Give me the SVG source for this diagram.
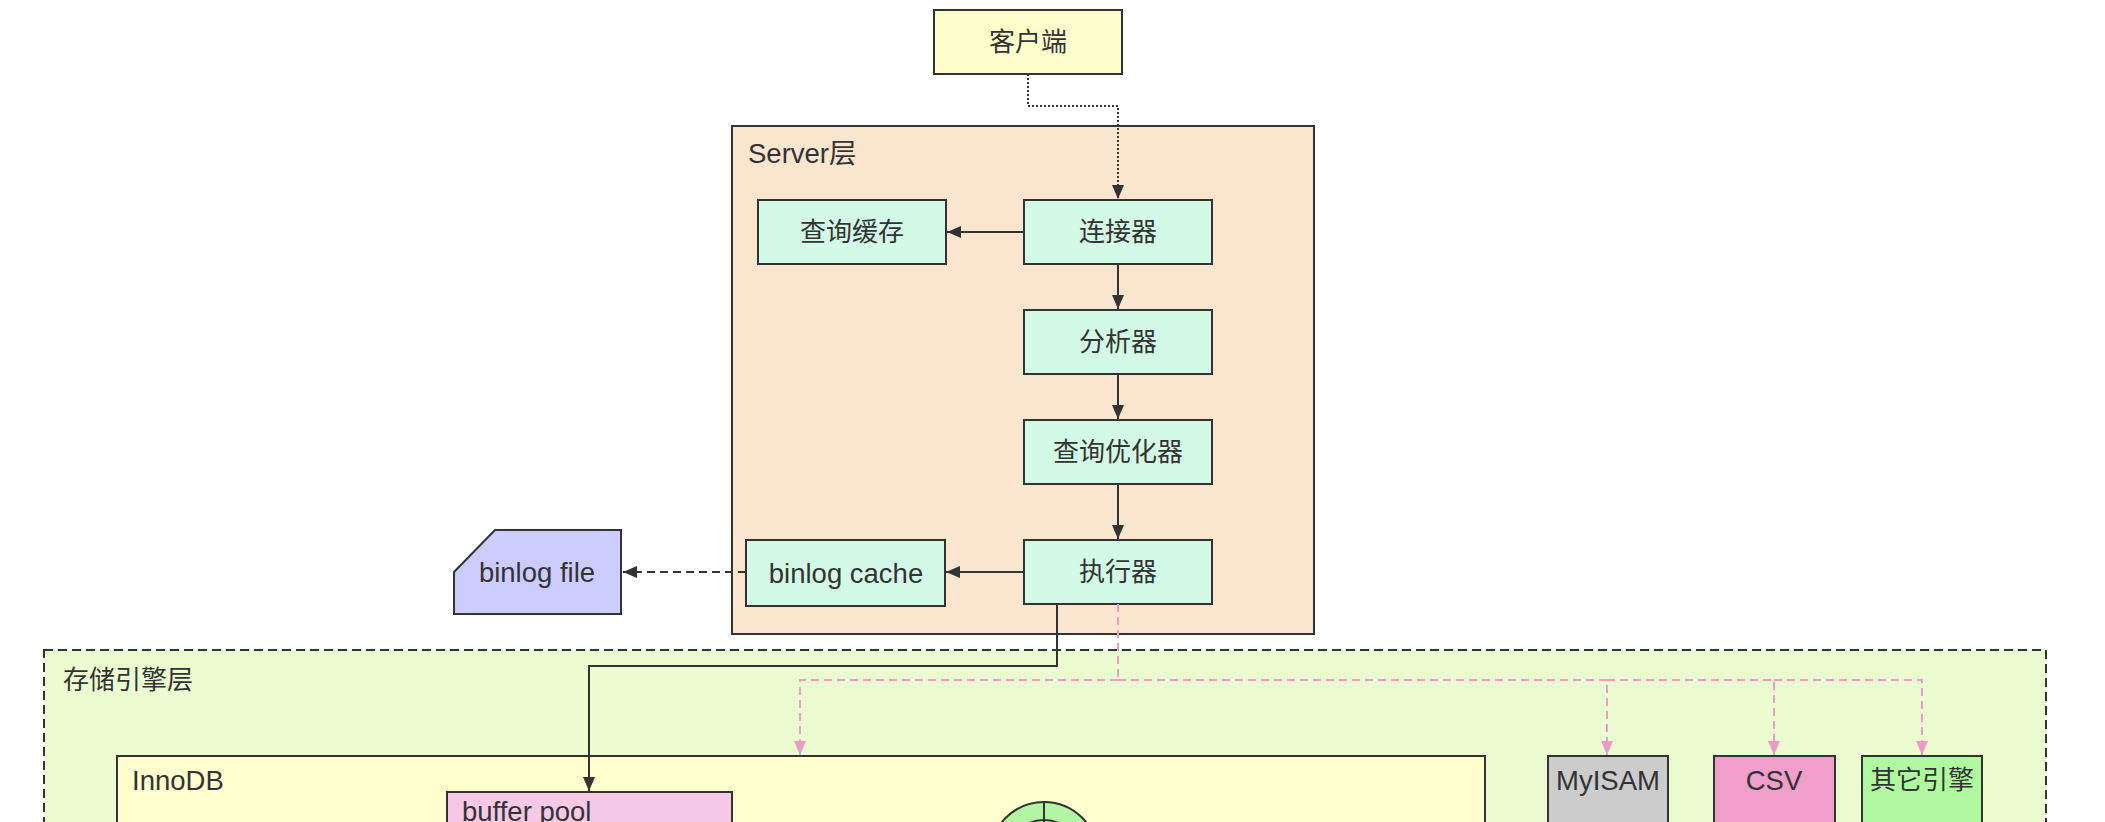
<svg xmlns="http://www.w3.org/2000/svg" width="2105" height="822" viewBox="0 0 2105 822">
<defs>
<style>
text{font-family:"Liberation Sans","Noto Sans CJK SC",sans-serif;font-size:26px;fill:#333;dominant-baseline:central}
.l{font-size:27.5px}
.c{text-anchor:middle}
.box{stroke:#333;stroke-width:2}
.g{fill:#D3FAE6}
.ln{fill:none;stroke:#333;stroke-width:2}
.pk{fill:none;stroke:#EE9ACB;stroke-width:2;stroke-dasharray:8 5}
</style>
<marker id="ab" viewBox="0 0 14 14" refX="14" refY="7" markerWidth="14" markerHeight="14" markerUnits="userSpaceOnUse" orient="auto">
<path d="M0,1 L14,7 L0,13 Z" fill="#333"/>
</marker>
<marker id="ap" viewBox="0 0 14 14" refX="14" refY="7" markerWidth="14" markerHeight="14" markerUnits="userSpaceOnUse" orient="auto">
<path d="M0,1 L14,7 L0,13 Z" fill="#EE9ACB"/>
</marker>
</defs>
<rect width="2105" height="822" fill="#fff"/>

<g id="storage-layer">
<rect x="44" y="650" width="2002" height="200" fill="#EAFCD0" stroke="#333" stroke-width="2" stroke-dasharray="9 5"/>
<text x="63" y="680">存储引擎层</text>
</g>

<g id="server-layer">
<rect class="box" x="732" y="126" width="582" height="508" fill="#FAE5CF"/>
<text class="l" x="748" y="153">Server层</text>
</g>

<g id="client">
<rect class="box" x="934" y="10" width="188" height="64" fill="#FFFFCC"/>
<text class="c" x="1028" y="42">客户端</text>
</g>

<g id="query-cache">
<rect class="box g" x="758" y="200" width="188" height="64"/>
<text class="c" x="852" y="232">查询缓存</text>
</g>
<g id="connector">
<rect class="box g" x="1024" y="200" width="188" height="64"/>
<text class="c" x="1118" y="232">连接器</text>
</g>
<g id="analyzer">
<rect class="box g" x="1024" y="310" width="188" height="64"/>
<text class="c" x="1118" y="342">分析器</text>
</g>
<g id="optimizer">
<rect class="box g" x="1024" y="420" width="188" height="64"/>
<text class="c" x="1118" y="452">查询优化器</text>
</g>
<g id="executor">
<rect class="box g" x="1024" y="540" width="188" height="64"/>
<text class="c" x="1118" y="572">执行器</text>
</g>
<g id="binlog-cache">
<rect class="box g" x="746" y="540" width="199" height="66"/>
<text class="c l" x="846" y="573">binlog cache</text>
</g>
<g id="binlog-file">
<path class="box" d="M495,530 H621 V614 H454 V572 Z" fill="#CCCCFF"/>
<text class="c l" x="537" y="572">binlog file</text>
</g>

<g id="innodb">
<rect class="box" x="117" y="756" width="1368" height="120" fill="#FFFFD0"/>
<text class="l" x="132" y="780">InnoDB</text>
</g>
<g id="buffer-pool">
<rect class="box" x="447" y="792" width="285" height="80" fill="#F6CAE6"/>
<text class="l" x="462" y="811">buffer pool</text>
</g>
<g id="redo-log">
<circle class="box" cx="1044" cy="856" r="54" fill="#B2F5A2"/>
<circle class="box" cx="1044" cy="856" r="36" fill="#B2F5A2"/>
<line class="ln" x1="1044" y1="802" x2="1044" y2="822"/>
</g>
<g id="myisam">
<rect class="box" x="1548" y="756" width="120" height="120" fill="#CCCCCC"/>
<text class="c l" x="1608" y="780">MyISAM</text>
</g>
<g id="csv">
<rect class="box" x="1714" y="756" width="121" height="120" fill="#F09FCA"/>
<text class="c l" x="1774" y="780">CSV</text>
</g>
<g id="other-engines">
<rect class="box" x="1862" y="756" width="120" height="120" fill="#B0F9A0"/>
<text class="c" x="1922" y="780">其它引擎</text>
</g>

<g id="connectors">
<path class="ln" d="M1028,74 V106 H1118 V199" stroke-dasharray="2 2" marker-end="url(#ab)"/>
<path class="ln" d="M1024,232 H947" marker-end="url(#ab)"/>
<path class="ln" d="M1118,264 V309" marker-end="url(#ab)"/>
<path class="ln" d="M1118,374 V419" marker-end="url(#ab)"/>
<path class="ln" d="M1118,484 V539" marker-end="url(#ab)"/>
<path class="ln" d="M1024,572 H946" marker-end="url(#ab)"/>
<path class="ln" d="M746,572 H623" stroke-dasharray="8 5" marker-end="url(#ab)"/>
<path class="ln" d="M1057,604 V666 H589 V791" marker-end="url(#ab)"/>
<path class="pk" d="M1118,604 V680" stroke-width="1.5"/>
<path class="pk" d="M1118,680 H800 V755" marker-end="url(#ap)"/>
<path class="pk" d="M1118,680 H1607 V755" marker-end="url(#ap)"/>
<path class="pk" d="M1607,680 H1774 V755" marker-end="url(#ap)"/>
<path class="pk" d="M1774,680 H1922 V755" marker-end="url(#ap)"/>
</g>
</svg>
